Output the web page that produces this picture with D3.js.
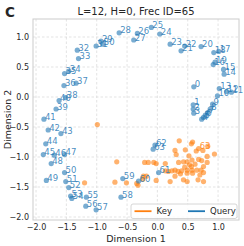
<!DOCTYPE html>
<html><head><meta charset="utf-8">
<script src="https://cdn.jsdelivr.net/npm/d3@7"></script>
<style>body{margin:0;background:#fff}svg{display:block}text{font-family:"DejaVu Sans",sans-serif}</style>
</head><body>
<svg id="c" width="244" height="246"></svg>
<script>
const queryIds = [0,1,2,3,4,5,6,7,8,9,10,11,12,13,14,15,16,17,18,19,20,21,22,23,24,25,26,27,28,29,30,31,32,33,34,35,36,37,38,39,40,41,42,43,44,45,46,47,48,49,50,51,52,53,54,55,56,57,58,59,60,61,62,63];
const queryX = [0.60,0.59,0.59,0.60,0.73,0.76,0.79,0.83,0.87,0.91,0.99,1.22,1.14,1.02,1.10,1.09,0.92,1.01,0.93,0.95,0.72,0.39,0.45,0.21,0.04,-0.10,-0.33,-0.39,-0.63,-0.93,-0.90,-1.01,-1.32,-1.30,-1.46,-1.53,-1.54,-1.34,-1.51,-1.67,-1.62,-1.87,-1.80,-1.59,-1.84,-1.88,-1.70,-1.53,-1.75,-1.83,-1.53,-1.51,-1.46,-1.43,-1.41,-1.17,-1.18,-1.01,-0.60,-0.57,-0.31,0.02,-0.04,-0.07];
const queryY = [0.17,-0.13,-0.20,-0.27,-0.37,-0.34,-0.30,-0.26,-0.20,-0.12,0.02,0.08,0.09,0.14,0.38,0.46,0.54,0.76,0.74,0.58,0.84,0.77,0.85,0.88,1.05,1.16,1.06,0.95,1.07,0.93,0.88,0.85,0.78,0.64,0.43,0.39,0.19,0.23,-0.01,-0.20,-0.06,-0.37,-0.55,-0.61,-0.78,-0.96,-0.97,-0.96,-1.11,-1.39,-1.26,-1.41,-1.51,-1.65,-1.69,-1.67,-1.82,-1.88,-1.67,-1.36,-1.40,-1.26,-0.80,-0.87];
const keyX = [0.36,0.58,0.56,0.46,0.29,0.31,0.64,0.75,0.83,0.94,0.82,0.73,0.68,0.57,0.49,0.43,0.35,-0.21,-0.15,-0.06,-0.02,0.13,0.53,0.56,0.76,0.82,0.13,0.18,0.24,0.29,0.34,0.40,0.49,0.57,0.65,0.72,0.76,0.70,0.58,0.49,0.38,0.29,-0.23,-0.18,-0.24,-0.02,0.21,0.43,0.49,0.67,0.76,-0.32,-0.99,-0.67,-1.20,-0.70,-0.51,0.52,0.62,0.45,0.68,-0.34];
const keyY = [-0.73,-0.75,-0.78,-0.88,-0.89,-0.96,-0.90,-0.89,-0.82,-0.95,-0.99,-1.06,-1.04,-1.05,-1.08,-1.08,-1.09,-1.09,-1.09,-1.09,-1.11,-1.11,-1.13,-1.16,-1.16,-1.09,-1.23,-1.24,-1.23,-1.22,-1.24,-1.23,-1.22,-1.22,-1.22,-1.22,-1.26,-1.30,-1.27,-1.27,-1.28,-1.32,-1.32,-1.32,-1.37,-1.39,-1.41,-1.38,-1.41,-1.38,-1.41,-1.47,-0.46,-1.08,-1.43,-1.42,-1.43,-0.98,-1.12,-1.17,-0.86,-1.44];
const keyLabels = [{i:60, text:"63"}];
const xTicks = [-2.0,-1.5,-1.0,-0.5,0.0,0.5,1.0];
const yTicks = [-2.0,-1.5,-1.0,-0.5,0.0,0.5,1.0];
const title = "L=12, H=0, Frec ID=65";
const panel = "C";

const blue = "#1f77b4", orange = "#ff7f0e";
const svg = d3.select("#c");
const L = 33, R = 239, T = 19, B = 220;
const x = d3.scaleLinear().domain([-2.05, 1.345]).range([L, R]);
const y = d3.scaleLinear().domain([-2.05, 1.30]).range([B, T]);
const fmt = v => d3.format(".1f")(v).replace("-", "\u2212");

// grid
const g = svg.append("g");
g.selectAll(".gx").data(xTicks).join("line")
  .attr("x1", d => x(d)).attr("x2", d => x(d)).attr("y1", T).attr("y2", B)
  .attr("stroke", "#dcdcdc").attr("stroke-width", 0.8).attr("stroke-dasharray", "2.5,2");
g.selectAll(".gy").data(yTicks).join("line")
  .attr("y1", d => y(d)).attr("y2", d => y(d)).attr("x1", L).attr("x2", R)
  .attr("stroke", "#dcdcdc").attr("stroke-width", 0.8).attr("stroke-dasharray", "2.5,2");

// axes with d3
const xa = svg.append("g").attr("transform", `translate(0,${B})`)
  .call(d3.axisBottom(x).tickValues(xTicks).tickFormat(fmt).tickSize(0).tickPadding(4));
const ya = svg.append("g").attr("transform", `translate(${L},0)`)
  .call(d3.axisLeft(y).tickValues(yTicks).tickFormat(fmt).tickSize(0).tickPadding(4));
[xa, ya].forEach(a => {
  a.select(".domain").remove();
  a.selectAll("text").attr("font-size", 8).attr("fill", "#262626").attr("font-family", "DejaVu Sans");
});

// frame
svg.append("rect").attr("x", L).attr("y", T).attr("width", R - L).attr("height", B - T)
  .attr("fill", "none").attr("stroke", "#cccccc").attr("stroke-width", 1);

// key points
svg.append("g").selectAll("circle").data(keyX).join("circle")
  .attr("cx", d => x(d)).attr("cy", (d, i) => y(keyY[i])).attr("r", 2.6)
  .attr("fill", orange).attr("fill-opacity", 0.6);
// query points
svg.append("g").selectAll("circle").data(queryX).join("circle")
  .attr("cx", d => x(d)).attr("cy", (d, i) => y(queryY[i])).attr("r", 2.6)
  .attr("fill", blue).attr("fill-opacity", 0.6);
// labels
svg.append("g").selectAll("text").data(queryIds).join("text")
  .attr("x", (d, i) => x(queryX[i]) + 1).attr("y", (d, i) => y(queryY[i]) + 0.5)
  .attr("font-size", 8.5).attr("fill", blue).attr("fill-opacity", 0.85).text(d => d);
svg.append("g").selectAll("text").data(keyLabels).join("text")
  .attr("x", d => x(keyX[d.i]) + 1).attr("y", d => y(keyY[d.i]) + 0.5)
  .attr("font-size", 8.5).attr("fill", orange).attr("fill-opacity", 0.85).text(d => d.text);

// legend
const lg = svg.append("g");
lg.append("rect").attr("x", 131).attr("y", 204).attr("width", 106).attr("height", 14.5).attr("rx", 2)
  .attr("fill", "#fff").attr("fill-opacity", 0.85).attr("stroke", "#cccccc").attr("stroke-width", 0.8);
const items = [{t:"Key", c:orange, x:134.5}, {t:"Query", c:blue, x:188}];
items.forEach(it => {
  lg.append("line").attr("x1", it.x).attr("x2", it.x + 17).attr("y1", 211.2).attr("y2", 211.2)
    .attr("stroke", it.c).attr("stroke-width", 1.8);
  lg.append("text").attr("x", it.x + 22).attr("y", 214).attr("font-size", 8.5).attr("fill", "#262626").text(it.t);
});

// titles
svg.append("text").attr("x", (L + R) / 2).attr("y", 15).attr("text-anchor", "middle")
  .attr("font-size", 10).attr("fill", "#262626").text(title);
svg.append("text").attr("x", 5).attr("y", 17).attr("font-size", 13.5).attr("font-weight", "bold")
  .attr("fill", "#262626").text(panel);
svg.append("text").attr("x", (L + R) / 2).attr("y", 242).attr("text-anchor", "middle")
  .attr("font-size", 9.5).attr("fill", "#262626").text("Dimension 1");
svg.append("text").attr("transform", `translate(11,${(T + B) / 2}) rotate(-90)`).attr("text-anchor", "middle")
  .attr("font-size", 9.5).attr("fill", "#262626").text("Dimension 2");
</script>
</body></html>
